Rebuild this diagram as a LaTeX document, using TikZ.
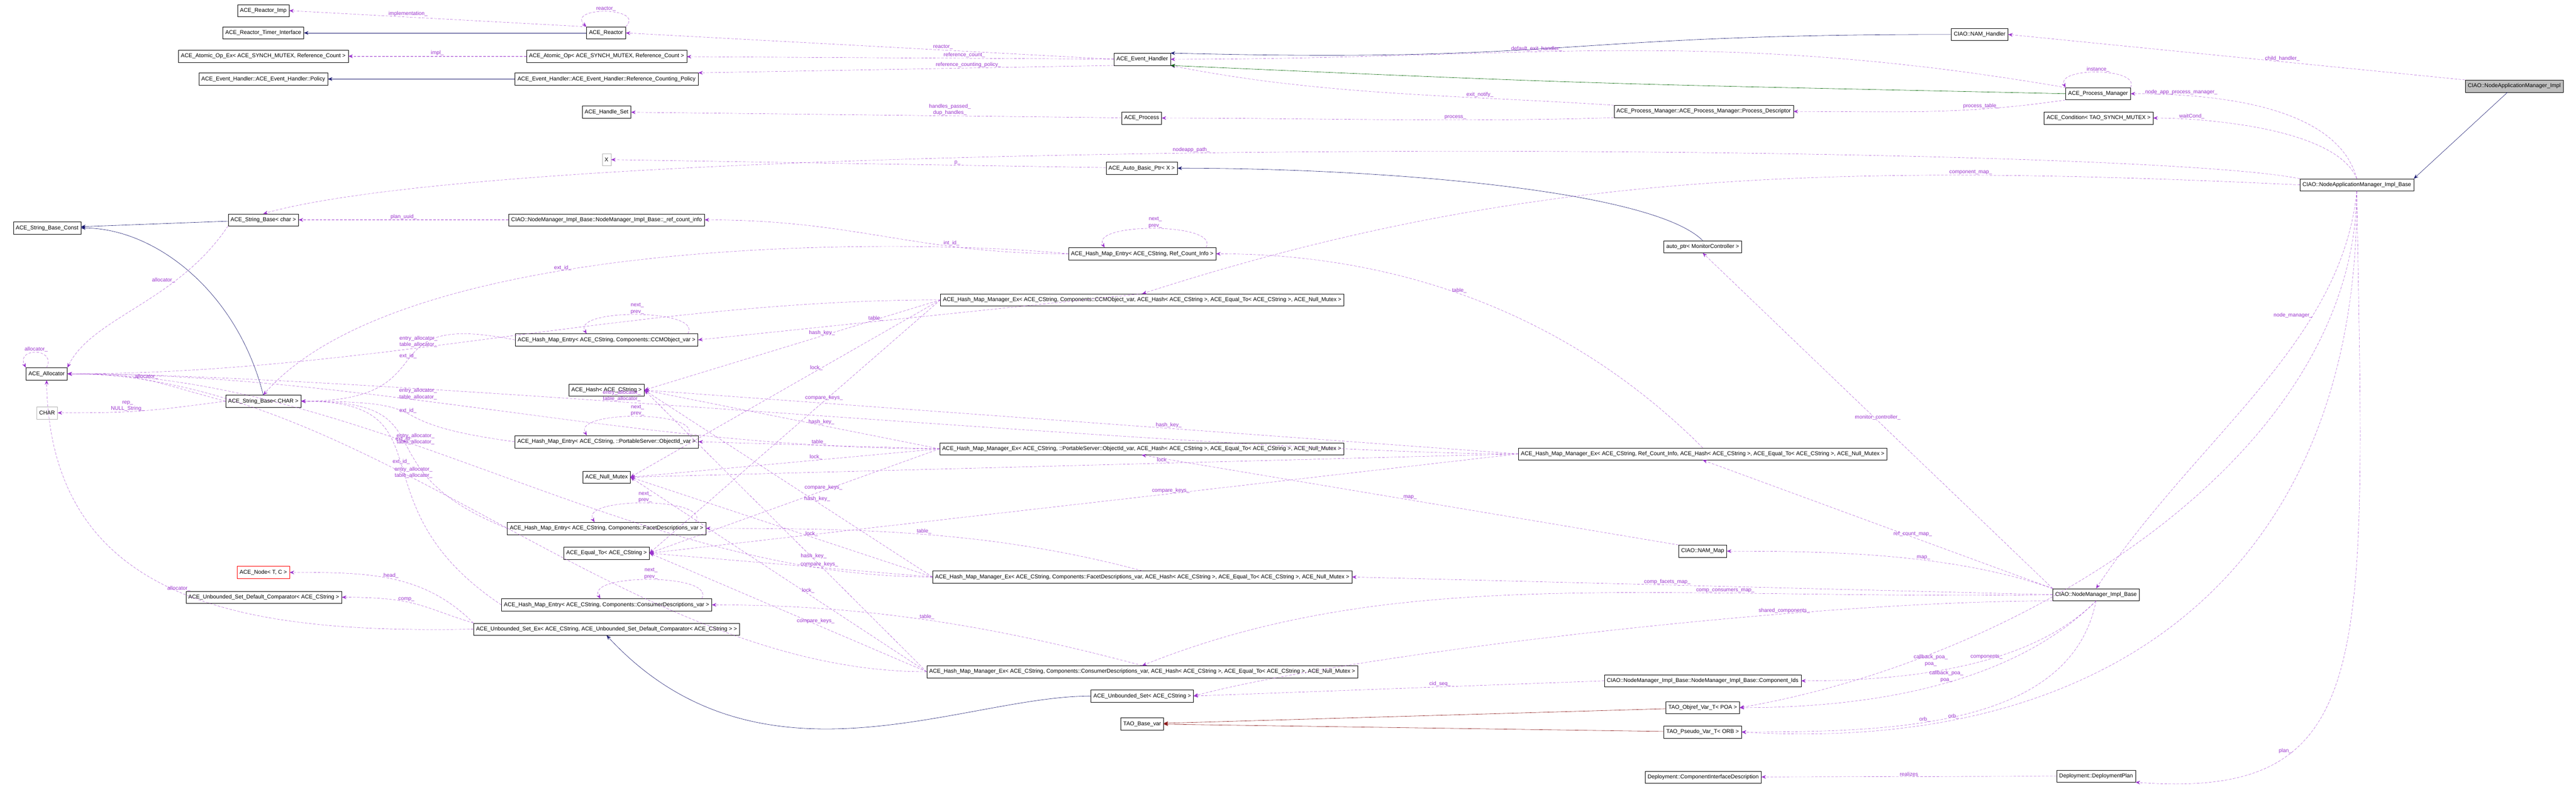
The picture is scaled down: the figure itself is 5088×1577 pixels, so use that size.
\documentclass[tikz,border=0pt]{standalone}
\usepackage{fontspec}
\setmainfont{Liberation Sans}
\usetikzlibrary{arrows.meta}
\definecolor{usecol}{HTML}{9A32CD}
\definecolor{inhcol}{HTML}{191970}
\definecolor{protcol}{HTML}{006400}
\definecolor{privcol}{HTML}{8B1A1A}
\tikzset{
  box/.style={draw, font=\fontsize{11}{12}\selectfont, minimum height=24pt, inner xsep=5pt, inner ysep=2pt},
  lbl/.style={font=\fontsize{10.5}{12.5}\selectfont, inner sep=1pt, align=center},
  use/.style={usecol, dashed, dash pattern=on 5pt off 3pt, -{Stealth[length=9pt,width=7pt]}},
  inh/.style={inhcol, semithick, -{Stealth[length=9pt,width=7pt]}},
  prot/.style={protcol, semithick, -{Stealth[length=9pt,width=7pt]}},
  priv/.style={privcol, semithick, -{Stealth[length=9pt,width=7pt]}},
}
\begin{document}
\catcode`\_=12
\begin{tikzpicture}[x=1pt,y=-1pt]
\useasboundingbox (0,0) rectangle (5088,1577);

% left column
\node[box] (reactorImp) at (520,21) {ACE_Reactor_Imp};
\node[box] (timerIf) at (520,65) {ACE_Reactor_Timer_Interface};
\node[box] (atomicEx) at (520,111) {ACE_Atomic_Op_Ex< ACE_SYNCH_MUTEX, Reference_Count >};
\node[box] (policy) at (520,156) {ACE_Event_Handler::ACE_Event_Handler::Policy};
\node[box] (strChar) at (520,434) {ACE_String_Base< char >};
\node[box] (strConst) at (93,450) {ACE_String_Base_Const};
\node[box] (alloc) at (92,738) {ACE_Allocator};
\node[box, draw=gray!60] (charT) at (93,815) {CHAR};
\node[box] (strCHAR) at (520,792) {ACE_String_Base< CHAR >};
\node[box, draw=red] (nodeT) at (520,1130) {ACE_Node< T, C >};
\node[box] (cmpT) at (521,1179) {ACE_Unbounded_Set_Default_Comparator< ACE_CString >};

% second column
\node[box] (reactor) at (1197,65) {ACE_Reactor};
\node[box] (atomic) at (1198,111) {ACE_Atomic_Op< ACE_SYNCH_MUTEX, Reference_Count >};
\node[box] (rcPolicy) at (1198,156) {ACE_Event_Handler::ACE_Event_Handler::Reference_Counting_Policy};
\node[box] (handleSet) at (1198,221) {ACE_Handle_Set};
\node[box, draw=gray!60] (xparam) at (1198,315) {X};
\node[box] (refInfo) at (1198,434) {CIAO::NodeManager_Impl_Base::NodeManager_Impl_Base::_ref_count_info};
\node[box] (entryCCM) at (1198,671) {ACE_Hash_Map_Entry< ACE_CString, Components::CCMObject_var >};
\node[box] (hashT) at (1198,770) {ACE_Hash< ACE_CString >};
\node[box] (entryOid) at (1198,872) {ACE_Hash_Map_Entry< ACE_CString, ::PortableServer::ObjectId_var >};
\node[box] (nullMx) at (1198,942) {ACE_Null_Mutex};
\node[box] (entryFacet) at (1198,1043) {ACE_Hash_Map_Entry< ACE_CString, Components::FacetDescriptions_var >};
\node[box] (equalT) at (1198,1092) {ACE_Equal_To< ACE_CString >};
\node[box] (entryCons) at (1198,1194) {ACE_Hash_Map_Entry< ACE_CString, Components::ConsumerDescriptions_var >};
\node[box] (usetEx) at (1198,1242) {ACE_Unbounded_Set_Ex< ACE_CString, ACE_Unbounded_Set_Default_Comparator< ACE_CString > >};

% third column
\node[box] (evHandler) at (2256,117) {ACE_Event_Handler};
\node[box] (process) at (2255,233) {ACE_Process};
\node[box] (autoBasic) at (2255,332) {ACE_Auto_Basic_Ptr< X >};
\node[box] (entryRef) at (2256,501) {ACE_Hash_Map_Entry< ACE_CString, Ref_Count_Info >};
\node[box] (hmmCCM) at (2256,592) {ACE_Hash_Map_Manager_Ex< ACE_CString, Components::CCMObject_var, ACE_Hash< ACE_CString >, ACE_Equal_To< ACE_CString >, ACE_Null_Mutex >};
\node[box] (hmmOid) at (2255,886) {ACE_Hash_Map_Manager_Ex< ACE_CString, ::PortableServer::ObjectId_var, ACE_Hash< ACE_CString >, ACE_Equal_To< ACE_CString >, ACE_Null_Mutex >};
\node[box] (hmmFacet) at (2256,1139) {ACE_Hash_Map_Manager_Ex< ACE_CString, Components::FacetDescriptions_var, ACE_Hash< ACE_CString >, ACE_Equal_To< ACE_CString >, ACE_Null_Mutex >};
\node[box] (hmmCons) at (2256,1326) {ACE_Hash_Map_Manager_Ex< ACE_CString, Components::ConsumerDescriptions_var, ACE_Hash< ACE_CString >, ACE_Equal_To< ACE_CString >, ACE_Null_Mutex >};
\node[box] (uset) at (2256,1374) {ACE_Unbounded_Set< ACE_CString >};
\node[box] (taoBase) at (2256,1429) {TAO_Base_var};

% fourth column
\node[box] (procDesc) at (3365,220) {ACE_Process_Manager::ACE_Process_Manager::Process_Descriptor};
\node[box] (autoPtr) at (3363,487) {auto_ptr< MonitorController >};
\node[box] (hmmRef) at (3363,896) {ACE_Hash_Map_Manager_Ex< ACE_CString, Ref_Count_Info, ACE_Hash< ACE_CString >, ACE_Equal_To< ACE_CString >, ACE_Null_Mutex >};
\node[box] (namMap) at (3363,1088) {CIAO::NAM_Map};
\node[box] (cids) at (3363,1344) {CIAO::NodeManager_Impl_Base::NodeManager_Impl_Base::Component_Ids};
\node[box] (objrefPOA) at (3363,1397) {TAO_Objref_Var_T< POA >};
\node[box] (pseudoORB) at (3363,1445) {TAO_Pseudo_Var_T< ORB >};
\node[box] (cidesc) at (3364,1534) {Deployment::ComponentInterfaceDescription};

% right columns
\node[box] (namHandler) at (3910,68) {CIAO::NAM_Handler};
\node[box] (procMgr) at (4144,185) {ACE_Process_Manager};
\node[box] (cond) at (4145,233) {ACE_Condition< TAO_SYNCH_MUTEX >};
\node[box] (nmBase) at (4140,1174) {CIAO::NodeManager_Impl_Base};
\node[box] (plan) at (4140,1532) {Deployment::DeploymentPlan};
\node[box] (namBase) at (4655,365) {CIAO::NodeApplicationManager_Impl_Base};
\node[box, fill=gray!50] (namImpl) at (4966,170) {CIAO::NodeApplicationManager_Impl};

% reactor and event handler
\draw[use] (reactor.north west) -- node[lbl, above, pos=0.6]{implementation_} (reactorImp.east);
\draw[inh] (reactor) -- (timerIf);
\draw[use] (reactor.north east) .. controls +(40,-40) and +(-40,-40) .. node[lbl, above]{reactor_} (reactor.north west);
\draw[use] (evHandler.west) -- node[lbl, above, pos=0.35]{reactor_} (reactor.east);
\draw[use] (evHandler) -- node[lbl, above, pos=0.35]{reference_count_} (atomic);
\draw[use] (evHandler.south west) -- node[lbl, above, pos=0.35]{reference_counting_policy_} (rcPolicy.north east);
\draw[use] (atomic) -- node[lbl, above]{impl_} (atomicEx);
\draw[inh] (rcPolicy) -- (policy);
\draw[use] (process) -- node[lbl, above, pos=0.35]{handles_passed_\\dup_handles_} (handleSet);
\draw[use] (procDesc.south west) .. controls +(-300,10) and +(300,0) .. node[lbl, above, pos=0.35]{process_} (process.east);
\draw[use] (procDesc.north west) .. controls +(-300,-20) and +(300,60) .. node[lbl, above, pos=0.3]{exit_notify_} (evHandler.south east);
\draw[inh] (namHandler.west) .. controls +(-800,0) and +(800,20) .. (evHandler.north east);
\draw[use] (procMgr.north west) .. controls +(-700,-120) and +(700,0) .. node[lbl, above, pos=0.6]{default_exit_handler_} (evHandler.east);
\draw[prot] (procMgr.west) .. controls +(-900,-20) and +(900,40) .. (evHandler.south east);
\draw[use] (procMgr.north east) .. controls +(20,-40) and +(-20,-40) .. node[lbl, above]{instance_} (procMgr.north west);
\draw[use] (procMgr.south west) .. controls +(-200,30) and +(200,0) .. node[lbl, above, pos=0.3]{process_table_} (procDesc.east);

% node application manager
\draw[use] (namImpl.north west) -- node[lbl, above, pos=0.4]{child_handler_} (namHandler.east);
\draw[inh] (namImpl) -- (namBase.north east);
\draw[use] (namBase.north) .. controls +(-40,-150) and +(150,0) .. node[lbl, above, pos=0.8]{node_app_process_manager_} (procMgr.east);
\draw[use] (namBase.north) .. controls +(-40,-100) and +(100,0) .. node[lbl, above, pos=0.8]{waitCond_} (cond.east);
\draw[use] (namBase.north west) .. controls (4200,281) and (1100,260) .. node[lbl, above, pos=0.55]{nodeapp_path_} (strChar.north);
\draw[use] (namBase.west) .. controls (3600,320) and (3000,340) .. node[lbl, above, pos=0.25]{component_map_} (hmmCCM.north);
\draw[use] (namBase.south) .. controls +(-30,300) and +(200,-300) .. node[lbl, left, pos=0.3]{node_manager_} (nmBase.north);
\draw[use] (namBase.south) .. controls (4650,900) and (4000,1300) .. node[lbl, right, pos=0.8]{callback_poa_\\poa_} (objrefPOA.east);
\draw[use] (namBase.south) .. controls (4660,1100) and (4200,1490) .. node[lbl, above, pos=0.8]{orb_} (pseudoORB.east);
\draw[use] (namBase.south) .. controls (4670,1300) and (4700,1580) .. node[lbl, left, pos=0.7]{plan_} (plan.south east);

% node manager
\draw[inh] (autoPtr.north) .. controls +(-100,-100) and +(400,0) .. (autoBasic.east);
\draw[use] (autoBasic) -- node[lbl, above, pos=0.3]{p_} (xparam);
\draw[use] (nmBase.north west) -- node[lbl, above, pos=0.5]{monitor_controller_} (autoPtr.south);
\draw[use] (nmBase.north west) -- node[lbl, above, pos=0.4]{ref_count_map_} (hmmRef.south);
\draw[use] (nmBase.north west) .. controls +(-200,-70) and +(200,0) .. node[lbl, above, pos=0.4]{map_} (namMap.east);
\draw[use] (nmBase.west) -- node[lbl, above, pos=0.55]{comp_facets_map_} (hmmFacet.east);
\draw[use] (nmBase.west) .. controls +(-800,10) and +(500,-200) .. node[lbl, above, pos=0.3]{comp_consumers_map_} (hmmCons.north);
\draw[use] (nmBase.south west) .. controls +(-500,0) and +(300,-80) .. node[lbl, above, pos=0.3]{shared_components_} (uset.east);
\draw[use] (nmBase.south) .. controls +(-100,100) and +(300,0) .. node[lbl, above, pos=0.5]{components_} (cids.east);
\draw[use] (nmBase.south) .. controls +(-150,150) and +(300,0) .. node[lbl, above, pos=0.5]{callback_poa_\\poa_} (objrefPOA.east);
\draw[use] (nmBase.south) .. controls +(-50,250) and +(300,0) .. node[lbl, above, pos=0.6]{orb_} (pseudoORB.east);
\draw[use] (cids.west) -- node[lbl, above, pos=0.4]{cid_seq_} (uset.east);
\draw[use] (namMap.north west) -- node[lbl, above, pos=0.5]{map_} (hmmOid.south);
\draw[priv] (objrefPOA) -- (taoBase);
\draw[priv] (pseudoORB) -- (taoBase);
\draw[use] (plan) -- node[lbl, above]{realizes} (cidesc);

% hash map entries
\draw[use] (refInfo) -- node[lbl, above]{plan_uuid_} (strChar);
\draw[use] (hmmRef.north) .. controls +(-300,-300) and +(300,0) .. node[lbl, above, pos=0.5]{table_} (entryRef.east);
\draw[use] (entryRef.west) .. controls +(-300,0) and +(300,0) .. node[lbl, above, pos=0.3]{int_id_} (refInfo.east);
\draw[use] (entryRef.west) .. controls (1800,470) and (800,460) .. node[lbl, above, pos=0.6]{ext_id_} (strCHAR.north);
\draw[use] (hmmCCM.north) -- node[lbl, above, pos=0.6]{table_} (entryCCM.east);
\draw[use] (hmmOid.west) -- node[lbl, above, pos=0.5]{table_} (entryOid.east);
\draw[use] (hmmFacet.north) .. controls +(-300,-80) and +(300,0) .. node[lbl, above, pos=0.5]{table_} (entryFacet.east);
\draw[use] (hmmCons.north) .. controls +(-300,-80) and +(300,0) .. node[lbl, above, pos=0.5]{table_} (entryCons.east);
\foreach \entry in {entryRef, entryCCM, entryOid, entryFacet, entryCons} {
  \draw[use] ([xshift=-20pt]\entry.north east) .. controls +(30,-50) and +(-30,-50) .. node[lbl, above]{next_\\prev_} ([xshift=-220pt]\entry.north east);
}
\foreach \entry/\dy in {entryCCM/-60, entryOid/-40, entryFacet/-120, entryCons/-200} {
  \draw[use] (\entry.west) .. controls +(-300,\dy) and +(300,0) .. node[lbl, above, pos=0.5]{ext_id_} (strCHAR.east);
}
\foreach \hmm in {hmmRef, hmmCCM, hmmOid, hmmFacet, hmmCons} {
  \draw[use] (\hmm.west) .. controls +(-600,0) and +(600,0) .. node[lbl, above, pos=0.6]{entry_allocator_\\table_allocator_} (alloc.east);
  \draw[use] (\hmm.west) -- node[lbl, above, pos=0.4]{hash_key_} (hashT.east);
  \draw[use] (\hmm.west) -- node[lbl, above, pos=0.4]{compare_keys_} (equalT.east);
  \draw[use] (\hmm.west) -- node[lbl, above, pos=0.4]{lock_} (nullMx.east);
}

% strings and sets
\draw[inh] (strChar) -- (strConst);
\draw[inh] (strCHAR.north) .. controls +(-50,-200) and +(150,0) .. (strConst.east);
\draw[use] (strChar.south west) .. controls +(-100,150) and +(50,-100) .. node[lbl, left, pos=0.3]{allocator_} (alloc.north east);
\draw[use] (strCHAR.west) .. controls +(-150,-40) and +(150,0) .. node[lbl, above, pos=0.5]{allocator_} (alloc.east);
\draw[use] (strCHAR.west) .. controls +(-150,20) and +(150,0) .. node[lbl, above, pos=0.6]{rep_\\NULL_String_} (charT.east);
\draw[use] (alloc.north) .. controls +(20,-40) and +(-20,-40) .. node[lbl, above]{allocator_} (alloc.north west);
\draw[inh] (uset.west) .. controls (1900,1374) and (1500,1580) .. (usetEx.south);
\draw[use] (usetEx.north west) .. controls +(-100,-100) and +(150,0) .. node[lbl, above, pos=0.5]{head_} (nodeT.east);
\draw[use] (usetEx.north west) .. controls +(-100,-30) and +(150,0) .. node[lbl, above, pos=0.6]{comp_} (cmpT.east);
\draw[use] (usetEx.west) .. controls (500,1250) and (100,1200) .. node[lbl, above, pos=0.5]{allocator_} (alloc.south);
\end{tikzpicture}
\end{document}
